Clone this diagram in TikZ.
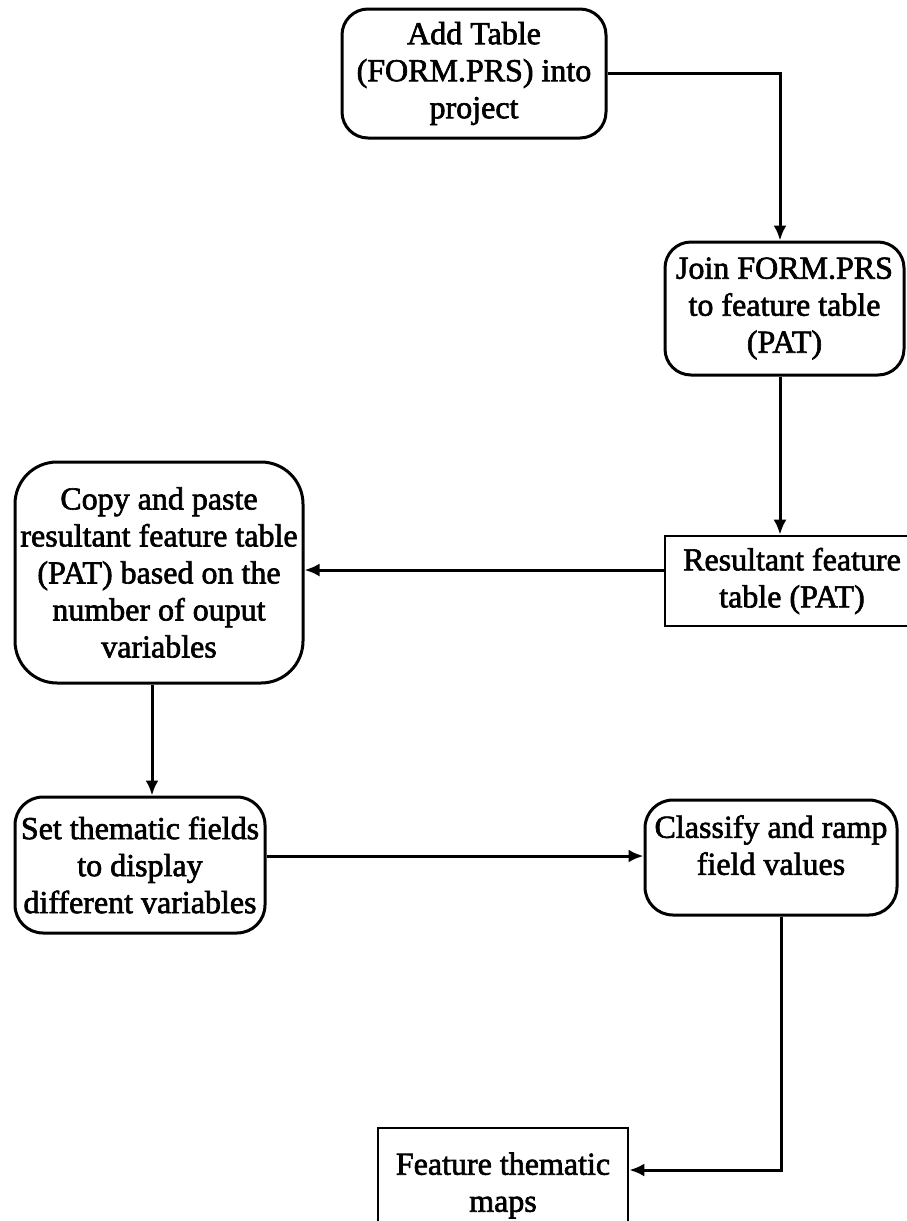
\documentclass[tikz,border=0pt]{standalone}
\usepackage{fontspec}
\setmainfont{Liberation Serif}[FakeBold=2]
\usetikzlibrary{arrows.meta}

\tikzset{
  stepbox/.style={draw=black, line width=3pt, align=center, inner sep=2pt,
    font=\fontsize{32}{37}\selectfont, rounded corners=#1},
  stepbox/.default=26pt,
  plainbox/.style={draw=black, line width=2.6pt, align=center, inner sep=2pt,
    font=\fontsize{32}{37}\selectfont},
  arr/.style={line width=3pt, -{Latex[length=15pt,width=13pt]}},
}

\begin{document}
\begin{tikzpicture}[x=1pt,y=-1pt]
  \useasboundingbox (0,0) rectangle (906,1221);

  % process steps
  \node[stepbox, minimum width=264pt, minimum height=129pt] (b1) at (474,73.5)
    {Add Table\\(FORM.PRS) into\\project};
  \node[stepbox, minimum width=239pt, minimum height=133pt] (b2) at (784.5,308.5)
    {Join FORM.PRS\\to feature table\\(PAT)};
  \node[plainbox, minimum width=254pt, minimum height=90pt] (b3) at (792,581)
    {Resultant feature\\table (PAT)};
  \node[stepbox=42pt, minimum width=288pt, minimum height=221pt] (b4) at (159,572.5)
    {Copy and paste\\resultant feature table\\(PAT) based on the\\number of ouput\\variables};
  \node[stepbox=28pt, minimum width=250pt, minimum height=136pt] (b5) at (140,865)
    {Set thematic fields\\to display\\different variables};
  \node[stepbox=28pt, minimum width=252pt, minimum height=115pt] (b6) at (771,857.5)
    {Classify and ramp\\field values\\[-12pt]\mbox{}};
  \node[plainbox, minimum width=250pt, minimum height=115pt] (b7) at (503,1185.5)
    {Feature thematic\\maps};

  % connector guide points
  \coordinate (v1) at (780,0);
  \coordinate (v2) at (781,0);
  \coordinate (v4) at (152,0);
  \coordinate (r3) at ([yshift=11pt]b3.west);
  \coordinate (r5) at ([yshift=9pt]b5.east);
  \coordinate (r7) at ([yshift=15.5pt]b7.east);

  % connectors
  \draw[arr] (b1.east) -| (v1 |- b2.north);
  \draw[arr] (v1 |- b2.south) -- (v1 |- b3.north);
  \draw[arr] (r3) -- (r3 -| b4.east);
  \draw[arr] (v4 |- b4.south) -- (v4 |- b5.north);
  \draw[arr] (r5) -- (r5 -| b6.west);
  \draw[arr] (v2 |- b6.south) |- (r7);
\end{tikzpicture}
\end{document}
